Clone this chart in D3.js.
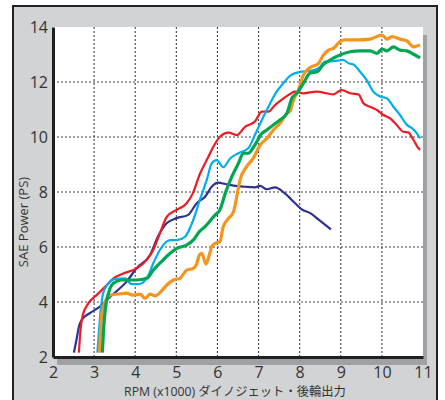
<!DOCTYPE html>
<html>
<head>
<meta charset="utf-8">
<script src="https://cdn.jsdelivr.net/npm/d3@7"></script>
<style>
  body { margin: 0; background: #fff; }
  svg { display: block; font-family: "Open Sans", "Noto Sans", sans-serif; }
</style>
</head>
<body>
<script>
'use strict';

// tick labels
const xTicks = [2, 3, 4, 5, 6, 7, 8, 9, 10, 11];
const yTicks = [2, 4, 6, 8, 10, 12, 14];

// [rpm x1000, PS]
const navyCurve = [[2.51,2.16],[2.58,2.7],[2.63,3.10],[2.70,3.35],[2.90,3.60],[3.14,3.83],[3.39,4.19],[3.79,4.74],[4.04,5.24],[4.36,5.71],[4.55,6.37],[4.77,6.87],[5.01,7.05],[5.28,7.16],[5.50,7.60],[5.70,7.83],[5.86,8.19],[6.02,8.34],[6.19,8.29],[6.43,8.22],[6.67,8.19],[6.91,8.17],[7.04,8.22],[7.20,8.10],[7.40,8.17],[7.64,7.95],[7.89,7.59],[8.05,7.37],[8.26,7.23],[8.50,6.95],[8.76,6.64]];

const redCurve = [[2.63,2.16],[2.67,3.0],[2.72,3.5],[2.86,3.95],[3.06,4.25],[3.31,4.62],[3.47,4.86],[3.71,5.04],[4.04,5.22],[4.28,5.53],[4.44,5.89],[4.60,6.50],[4.77,7.10],[5.01,7.35],[5.25,7.59],[5.40,7.95],[5.58,8.68],[5.74,9.16],[5.86,9.53],[6.06,10.01],[6.27,10.16],[6.47,10.07],[6.67,10.37],[6.91,10.56],[7.08,10.92],[7.24,10.92],[7.40,11.16],[7.56,11.35],[7.73,11.53],[7.89,11.65],[8.09,11.59],[8.42,11.65],[8.66,11.59],[8.82,11.55],[9.02,11.71],[9.23,11.59],[9.43,11.55],[9.55,11.23],[9.71,11.10],[9.88,10.98],[10.04,10.80],[10.20,10.68],[10.36,10.44],[10.52,10.19],[10.64,10.17],[10.77,9.89],[10.89,9.59],[10.93,9.53]];

const cyanCurve = [[3.08,2.16],[3.12,3.0],[3.16,3.71],[3.22,4.32],[3.35,4.68],[3.51,4.84],[3.75,4.86],[3.91,4.65],[4.08,4.65],[4.28,4.86],[4.44,5.41],[4.60,5.89],[4.85,6.25],[5.01,6.25],[5.21,6.37],[5.41,6.98],[5.58,7.75],[5.74,8.44],[5.86,9.04],[5.98,9.16],[6.14,8.90],[6.31,9.22],[6.51,9.41],[6.75,9.59],[6.91,10.07],[7.08,10.62],[7.24,11.10],[7.44,11.65],[7.60,11.95],[7.77,12.23],[8.01,12.37],[8.25,12.40],[8.46,12.50],[8.62,12.74],[8.82,12.76],[9.06,12.80],[9.19,12.68],[9.31,12.64],[9.47,12.37],[9.63,12.07],[9.79,11.65],[9.96,11.47],[10.12,11.41],[10.28,11.10],[10.44,10.80],[10.61,10.44],[10.73,10.32],[10.85,10.13],[10.93,9.95]];

const orangeCurve = [[3.13,2.16],[3.16,3.0],[3.18,3.47],[3.27,4.01],[3.39,4.25],[3.59,4.29],[3.79,4.32],[3.95,4.25],[4.12,4.29],[4.24,4.13],[4.36,4.29],[4.48,4.22],[4.60,4.34],[4.77,4.62],[4.93,4.80],[5.09,4.86],[5.25,5.16],[5.41,5.22],[5.50,5.41],[5.56,5.71],[5.62,5.77],[5.72,5.38],[5.80,5.70],[5.86,6.01],[5.94,6.13],[6.06,6.19],[6.14,6.74],[6.27,7.04],[6.39,7.28],[6.47,7.83],[6.55,8.44],[6.71,8.92],[6.87,9.22],[7.04,9.71],[7.20,9.95],[7.36,10.25],[7.52,10.49],[7.69,10.86],[7.77,10.95],[7.85,11.35],[7.97,11.71],[8.09,12.25],[8.25,12.52],[8.46,12.68],[8.58,12.98],[8.70,13.16],[8.82,13.22],[8.98,13.47],[9.10,13.53],[9.39,13.53],[9.71,13.56],[10.0,13.71],[10.12,13.56],[10.24,13.65],[10.44,13.56],[10.61,13.49],[10.77,13.28],[10.93,13.35]];

const greenCurve = [[3.20,2.16],[3.23,3.0],[3.27,3.71],[3.35,4.32],[3.47,4.68],[3.67,4.80],[4.04,4.80],[4.28,4.86],[4.44,5.16],[4.64,5.47],[4.85,5.77],[5.01,5.95],[5.25,6.07],[5.41,6.25],[5.56,6.56],[5.70,6.74],[5.94,7.16],[6.06,7.35],[6.19,7.95],[6.35,8.56],[6.51,9.04],[6.63,9.41],[6.75,9.41],[6.91,9.71],[7.08,10.13],[7.20,10.25],[7.36,10.44],[7.52,10.62],[7.69,10.86],[7.81,11.41],[7.93,11.59],[8.09,11.95],[8.25,12.32],[8.42,12.37],[8.58,12.64],[8.74,12.80],[8.98,12.98],[9.23,13.10],[9.47,13.13],[9.71,13.13],[9.88,13.04],[10.0,13.20],[10.12,13.13],[10.28,13.28],[10.44,13.16],[10.61,13.13],[10.77,13.01],[10.93,12.88]];

const series = [
  {data: navyCurve,   color: "#2e3192", w: 2.2},
  {data: redCurve,    color: "#ed1c24", w: 2.2},
  {data: cyanCurve,   color: "#00aeef", w: 2.2},
  {data: orangeCurve, color: "#f7941d", w: 3.2},
  {data: greenCurve,  color: "#00a651", w: 3.2}
];

const W = 445, H = 400;
const plot = {left: 53, top: 27, right: 423, bottom: 357};

const svg = d3.select("body").append("svg")
    .attr("width", W)
    .attr("height", H);

// gray panel with dark frame
svg.append("rect")
    .attr("x", 13).attr("y", 6)
    .attr("width", 424).attr("height", 420)
    .attr("fill", "#d1d3d4")
    .attr("stroke", "#231f20")
    .attr("stroke-width", 2);

const x = d3.scaleLinear().domain([2, 11]).range([plot.left, plot.right]);
const y = d3.scaleLinear().domain([2, 14]).range([plot.bottom, plot.top]);

// drop shadow + plot area
svg.append("rect")
    .attr("x", plot.left + 4).attr("y", plot.top + 8)
    .attr("width", plot.right - plot.left).attr("height", plot.bottom - plot.top)
    .attr("fill", "#a0a1a4");
svg.append("rect")
    .attr("x", plot.left).attr("y", plot.top)
    .attr("width", plot.right - plot.left).attr("height", plot.bottom - plot.top)
    .attr("fill", "#fff");

// dotted grid
const grid = svg.append("g")
    .attr("stroke", "#444")
    .attr("stroke-width", 1.1)
    .attr("stroke-dasharray", "2,2");
grid.selectAll(".vx").data(xTicks.slice(1, -1)).enter().append("line")
    .attr("x1", d => x(d)).attr("x2", d => x(d))
    .attr("y1", plot.top).attr("y2", plot.bottom);
grid.selectAll(".hy").data(yTicks.slice(1, -1)).enter().append("line")
    .attr("x1", plot.left).attr("x2", plot.right)
    .attr("y1", d => y(d)).attr("y2", d => y(d));

// curves
const line = d3.line()
    .x(d => x(d[0]))
    .y(d => y(d[1]))
    .curve(d3.curveMonotoneX);

svg.append("g").selectAll("path")
    .data(series)
  .enter().append("path")
    .attr("d", d => line(d.data))
    .attr("fill", "none")
    .attr("stroke", d => d.color)
    .attr("stroke-width", d => d.w)
    .attr("stroke-linejoin", "round")
    .attr("stroke-linecap", "butt");

// axes
const xAxis = svg.append("g")
    .attr("transform", `translate(0,${plot.bottom})`)
    .call(d3.axisBottom(x).tickValues(xTicks).tickSize(0).tickPadding(10).tickFormat(d3.format("d")));
const yAxis = svg.append("g")
    .attr("transform", `translate(${plot.left},0)`)
    .call(d3.axisLeft(y).tickValues(yTicks).tickSize(0).tickPadding(5).tickFormat(d3.format("d")));

[xAxis, yAxis].forEach(a => {
  a.select(".domain").attr("stroke", "#231f20").attr("stroke-width", 3);
  a.selectAll("text")
      .attr("fill", "#333")
      .style("font-size", "16px")
      .style("font-family", "'Open Sans', sans-serif");
});

// axis titles
svg.append("text")
    .attr("transform", "translate(28,222) rotate(-90)")
    .attr("text-anchor", "middle")
    .attr("fill", "#333")
    .style("font-size", "13px")
    .text("SAE Power (PS)");

svg.append("text")
    .attr("x", 235).attr("y", 396)
    .attr("text-anchor", "middle")
    .attr("fill", "#333")
    .style("font-size", "12.3px")
    .style("font-family", "'Open Sans', 'Noto Sans CJK JP', sans-serif")
    .text("RPM (x1000) ダイノジェット・後輪出力");
</script>
</body>
</html>
